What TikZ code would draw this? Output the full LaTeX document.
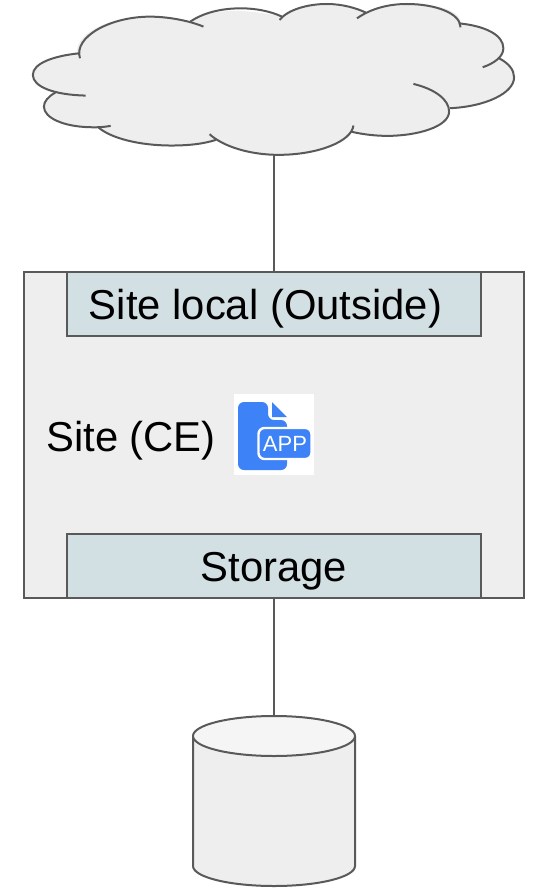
\documentclass[tikz,border=0pt]{standalone}
\usepackage{fontspec}
\setmainfont{Liberation Sans}
\usepackage{tikz}
\usetikzlibrary{positioning}
\definecolor{shapefill}{HTML}{EEEEEE}
\definecolor{shapeline}{HTML}{595959}
\definecolor{portfill}{HTML}{D2DFE3}
\definecolor{appblue}{HTML}{3D82F6}
\tikzset{
  sitebox/.style={draw=shapeline, line width=1pt, fill=shapefill, minimum width=250pt, minimum height=163pt, inner sep=0pt},
  portbox/.style={draw=shapeline, line width=1pt, fill=portfill, minimum width=207pt, minimum height=32pt, inner sep=0pt, node distance=0pt, text height=15pt, text depth=0pt},
  dbbody/.style={draw=shapeline, line width=1pt, fill=shapefill},
  dbtopface/.style={draw=shapeline, line width=1pt, fill=black!4},
  cloudline/.style={draw=shapeline, line width=1pt},
  link/.style={draw=shapeline, line width=1pt},
  iconbg/.style={fill=white, minimum width=40pt, minimum height=40.5pt, inner sep=0pt},
  appbadge/.style={draw=white, line width=1.2pt, fill=appblue, text=white, rounded corners=3pt, minimum width=26.5pt, minimum height=15.5pt, inner sep=0pt, font=\fontsize{11}{12}\selectfont},
  every node/.style={font=\fontsize{20.9}{25}\selectfont}
}
\begin{document}
\begin{tikzpicture}[x=0.5pt, y=-0.5pt]
    \useasboundingbox (0,0) rectangle (560,894);
    % cloud
    \begin{scope}[xscale=0.357, yscale=0.333]
      \fill[shapefill] (92,225) .. controls (92,190) and (150,168) .. (215,160) .. controls (213,90) and (320,50) .. (420,50) .. controls (460,50) and (500,55) .. (533,65) .. controls (590,25) and (680,25) .. (790,50) .. controls (810,10) and (960,5) .. (1025,38) .. controls (1100,5) and (1290,0) .. (1290,70) .. controls (1360,78) and (1410,105) .. (1410,145) .. controls (1410,155) and (1405,165) .. (1398,175) .. controls (1425,190) and (1440,210) .. (1440,232) .. controls (1440,280) and (1360,320) .. (1258,325) .. controls (1258,380) and (1170,408) .. (1085,408) .. controls (1045,408) and (1010,402) .. (982,395) .. controls (960,435) and (890,465) .. (780,465) .. controls (700,465) and (640,445) .. (605,420) .. controls (570,432) and (530,437) .. (480,437) .. controls (390,437) and (310,415) .. (275,382) .. controls (180,380) and (123,355) .. (123,320) .. controls (123,305) and (135,290) .. (155,278) .. controls (115,265) and (92,250) .. (92,225) -- cycle;
      \draw[cloudline] (240,287) .. controls (150,285) and (92,260) .. (92,225) .. controls (92,190) and (150,168) .. (222,160);
      \draw[cloudline] (224,175) .. controls (205,110) and (310,50) .. (420,50) .. controls (470,50) and (530,62) .. (570,80);
      \draw[cloudline] (533,65) .. controls (570,38) and (620,25) .. (675,25) .. controls (720,25) and (760,35) .. (790,50);
      \draw[cloudline] (783,60) .. controls (805,30) and (860,12) .. (915,12) .. controls (960,12) and (1000,25) .. (1025,38);
      \draw[cloudline] (1000,55) .. controls (1040,25) and (1090,12) .. (1140,12) .. controls (1220,12) and (1290,40) .. (1290,82);
      \draw[cloudline] (1285,70) .. controls (1360,78) and (1410,105) .. (1410,145) .. controls (1410,170) and (1385,190) .. (1352,202);
      \draw[cloudline] (1398,175) .. controls (1425,190) and (1440,210) .. (1440,232) .. controls (1440,280) and (1360,320) .. (1260,325);
      \draw[cloudline] (1158,252) .. controls (1220,268) and (1258,300) .. (1258,335) .. controls (1258,380) and (1170,408) .. (1085,408) .. controls (1045,408) and (1010,402) .. (982,395);
      \draw[cloudline] (990,377) .. controls (985,425) and (890,465) .. (780,465) .. controls (700,465) and (625,440) .. (587,403);
      \draw[cloudline] (605,420) .. controls (570,432) and (530,437) .. (480,437) .. controls (390,437) and (310,415) .. (275,382);
      \draw[cloudline] (310,378) .. controls (290,382) and (270,383) .. (250,382) .. controls (180,380) and (123,355) .. (123,320) .. controls (123,305) and (135,290) .. (155,278);
    \end{scope}
    \coordinate (cloudbottom) at (274,155);

    \node[sitebox] (site) at (274,435) {};
    \node[portbox, below=of site.north] (sitelocal) {Site local (Outside)\hspace{8.5pt}\null};
    \node[portbox, above=of site.south] (storage) {Storage};
    \node (sitelabel) at (131,441) {Site (CE)};
    \node[iconbg] (appicon) at (274,434.5) {};
    \fill[appblue, rounded corners=3pt] (238,402) -- (268,402) -- (268,420) -- (287,420) -- (287,470) -- (238,470) -- cycle;
    \fill[appblue] (272,402) -- (287,417) -- (272,417) -- cycle;
    \node[appbadge] (apptext) at (285,443.5) {APP};
    % storage drum
    \coordinate (dbtop) at (274,716);
    \draw[dbbody] (193,736) -- (193,866) .. controls (193,877) and (229,886) .. (274,886) .. controls (319,886) and (355,877) .. (355,866) -- (355,736);
    \draw[dbtopface] (274,736) ellipse [x radius=81, y radius=20];

    \draw[link] (cloudbottom) -- (sitelocal);
    \draw[link] (storage) -- (dbtop);
\end{tikzpicture}
\end{document}
